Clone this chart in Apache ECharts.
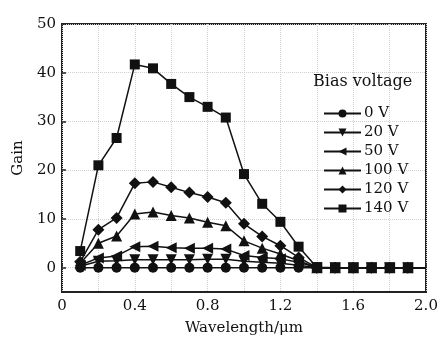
<!DOCTYPE html>
<html>
<head>
<meta charset="utf-8">
<script src="https://cdn.jsdelivr.net/npm/echarts@6/dist/echarts.min.js"></script>
<style>
html,body{margin:0;padding:0;background:#fff;}
#c{width:442px;height:343px;}
</style>
</head>
<body>
<div id="c"></div>
<script>
const wavelengths = [0.1,0.2,0.3,0.4,0.5,0.6,0.7,0.8,0.9,1.0,1.1,1.2,1.3,1.4,1.5,1.6,1.7,1.8,1.9,2.0];
const seriesNames = ['0 V','20 V','50 V','100 V','120 V','140 V'];
const gain0V   = [0,0,0,0,0,0,0,0,0,0,0,0,0,0,0,0,0,0,0,0];
const gain20V  = [0.3,1.3,1.4,1.6,1.6,1.6,1.6,1.7,1.7,1.3,1.1,0.9,0.5,0,0,0,0,0,0,0];
const gain50V  = [0.5,2.0,2.4,4.3,4.4,4.1,4.0,4.0,3.8,2.5,2.1,1.8,1.1,0,0,0,0,0,0,0];
const gain100V = [0.9,5.0,6.5,11.0,11.4,10.7,10.2,9.3,8.6,5.5,4.0,2.8,1.4,0,0,0,0,0,0,0];
const gain120V = [1.2,7.8,10.2,17.3,17.6,16.5,15.4,14.5,13.3,9.0,6.4,4.5,2.1,0,0,0,0,0,0,0];
const gain140V = [3.4,21.0,26.6,41.7,40.9,37.7,35.0,33.0,30.8,19.2,13.1,9.4,4.3,0.1,0,0,0,0,0,0];
const yTicks = [0,10,20,30,40,50];
const xTicks = [0,0.4,0.8,1.2,1.6,2.0];

const allGains = [gain0V,gain20V,gain50V,gain100V,gain120V,gain140V];
const symbols = ['circle','triangle','triangle','triangle','diamond','rect'];
const rotates = [0,180,90,0,0,0];
const sizes = [10,11,11,11,12,10];

const font = 'DejaVu Serif';
const chart = echarts.init(document.getElementById('c'));

const series = allGains.map((g,i)=>({
  name: seriesNames[i],
  type: 'line',
  symbol: symbols[i],
  symbolRotate: rotates[i],
  symbolSize: sizes[i],
  z: 2+i,
  lineStyle: {color:'#111', width:1.5},
  itemStyle: {color:'#111'},
  data: g.map((v,j)=> j===g.length-1 ? {value:[wavelengths[j],v], symbol:'none'} : [wavelengths[j],v])
}));

chart.setOption({
  animation:false,
  backgroundColor:'#fff',
  title:{
    text:'Bias voltage',
    left:308, top:69,
    textStyle:{fontFamily:font, fontSize:16, fontWeight:'normal', color:'#111'}
  },
  legend:{
    orient:'vertical',
    left:318, top:100,
    itemWidth:37, itemHeight:10, itemGap:2,
    textStyle:{fontFamily:font, fontSize:15, color:'#111', lineHeight:17, padding:[0,0,0,-2]},
    data: seriesNames
  },
  grid:{left:62, right:16, top:24, bottom:51, show:true, borderColor:'#222', borderWidth:2, backgroundColor:'transparent'},
  xAxis:{
    type:'value', min:0, max:2.0, interval:0.4,
    name:'Wavelength/μm', nameLocation:'middle', nameGap:29,
    nameTextStyle:{fontFamily:font, fontSize:15, color:'#111'},
    axisLine:{show:false},
    axisTick:{show:true, inside:true, length:4, lineStyle:{color:'#222', width:1.5}},
    axisLabel:{fontFamily:font, fontSize:15, color:'#111', margin:7,
      formatter:v=>{const t=xTicks.find(x=>Math.abs(x-v)<1e-6); return t===undefined?'':(t===0?'0':t.toFixed(1));}},
    splitLine:{show:true, lineStyle:{color:'#d0d0d0', type:'dotted', width:1}},
    minorTick:{show:false, splitNumber:2},
    minorSplitLine:{show:true, lineStyle:{color:'#d0d0d0', type:'dotted', width:1}}
  },
  yAxis:{
    type:'value', min:-5, max:50,
    name:'Gain', nameLocation:'middle', nameGap:36,
    nameTextStyle:{fontFamily:font, fontSize:15, color:'#111'},
    axisLine:{show:false},
    axisTick:{show:true, inside:true, length:4, customValues:yTicks, lineStyle:{color:'#222', width:1.5}},
    axisLabel:{fontFamily:font, fontSize:15, color:'#111', margin:6, customValues:yTicks},
    splitLine:{show:true, lineStyle:{color:'#d0d0d0', type:'dotted', width:1}}
  },
  series: series
});
</script>
</body>
</html>
